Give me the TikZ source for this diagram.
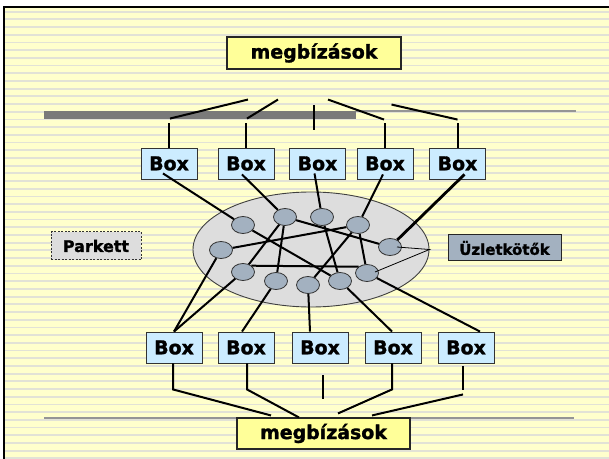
\documentclass[tikz,border=0pt]{standalone}
\usepackage{fontspec}
\setmainfont{DejaVu Sans}[BoldFeatures={FakeBold=1.6}]
\usepackage{tikz}
\usetikzlibrary{calc,shapes.geometric}
\definecolor{lap}{HTML}{FFFFCC}
\definecolor{csik}{HTML}{E2E2D6}
\definecolor{doboz}{HTML}{CCECFF}
\definecolor{sarga}{HTML}{FFFF99}
\definecolor{pontszin}{HTML}{A3B1C0}
\definecolor{szurke}{HTML}{DDDDDD}
\definecolor{sav}{HTML}{7A7A7A}

\begin{document}
\begin{tikzpicture}[x=1bp,y=-1bp,
  box/.style={draw=black!80,fill=doboz,line width=0.9bp,minimum width=56bp,minimum height=31bp,inner sep=0pt,font=\fontsize{19}{19}\selectfont\bfseries},
  megb/.style={draw=black!85,fill=sarga,line width=1.1bp,minimum width=174bp,minimum height=32bp,inner sep=0pt,font=\fontsize{19}{19}\selectfont\bfseries},
  pont/.style={ellipse,draw=black!80,fill=pontszin,line width=0.8bp,minimum width=23bp,minimum height=17bp,inner sep=0pt},
  vonal/.style={line width=2bp},
  vekony/.style={line width=0.8bp}]
\useasboundingbox (0,0) rectangle (609,459);
\begin{scope}
\clip (0,0) rectangle (609,459);
\fill[lap] (4,7) rectangle (612,462);
\foreach \y in {11.7,19.4,...,459}
  \draw[csik,line width=1.8bp] (4,\y) -- (609,\y);
\draw[line width=2.2bp] (4,462) -- (4,7) -- (612,7);
\end{scope}

\fill[sav] (44,111) rectangle (356,119);
\draw[sav!80,line width=1.3bp] (356,111) -- (576,111);
\draw[sav!80,line width=1.3bp] (44,418) -- (574,418);

\node[megb] (mfelso) at (314,53) {megbízások};
\node[megb,minimum width=173bp,minimum height=31bp] (malso) at (323.5,433.5) {megbízások};

\node[ellipse,draw=black!75,fill=szurke,line width=0.9bp,minimum width=236bp,minimum height=115bp,inner sep=0pt] (pool) at (311,249.5) {};

\node[box] (tb1) at (169,163.5) {Box};
\node[box] (tb2) at (246,163.5) {Box};
\node[box] (tb3) at (317.5,163.5) {Box};
\node[box] (tb4) at (385,163.5) {Box};
\node[box] (tb5) at (457.5,163.5) {Box};

\node[box] (bb1) at (174,347.5) {Box};
\node[box] (bb2) at (246,347.5) {Box};
\node[box] (bb3) at (320,347.5) {Box};
\node[box] (bb4) at (393,347.5) {Box};
\node[box] (bb5) at (466,347.5) {Box};

\node[draw=black!80,dash pattern=on 2bp off 1.5bp,fill=szurke,line width=1bp,minimum width=90bp,minimum height=28bp,font=\fontsize{16}{16}\selectfont\bfseries] (parkett) at (96,246) {Parkett};
\node[draw=black!85,fill=pontszin,line width=1bp,minimum width=113bp,minimum height=26bp,font=\fontsize{15}{15}\selectfont\bfseries] (uzlet) at (504.5,248) {Üzletkötők};

\node[pont] (n1) at (243,225) {};
\node[pont] (n2) at (285,217) {};
\node[pont] (n3) at (322,217) {};
\node[pont] (n4) at (358,225) {};
\node[pont] (n5) at (221,250) {};
\node[pont] (n6) at (390,247) {};
\node[pont] (n7) at (243,272) {};
\node[pont] (n8) at (276,281) {};
\node[pont] (n9) at (308,285) {};
\node[pont] (n10) at (340,281) {};
\node[pont] (n11) at (367,273) {};

% felso elosztas
\draw[vonal] (tb1.north) -- ++(0,-25);
\draw[vonal] (tb1.north) ++(1,-29) -- ++(78,-19);
\draw[vonal] (tb2.north) -- ++(0,-25);
\draw[vonal] (tb2.north) ++(1,-29) -- ++(31,-19);
\draw[vonal] (tb3.north) ++(-3.5,-18) -- ++(0,-25);
\draw[vonal] (tb4.north) -- ++(0,-25);
\draw[vonal] (tb4.north) ++(-1,-28) -- ++(-56,-20);
\draw[vonal] (tb5.north) -- ++(0,-25);
\draw[vonal] (tb5.north) ++(0,-28) -- ++(-66,-15);

% also elosztas
\draw[vonal] (bb1.south) ++(-1,0) -- ++(0,26) -- ++(98,26);
\draw[vonal] (bb2.south) ++(1,0) -- ++(0,26) -- ++(52,28);
\draw[vonal] (bb3.south) ++(3,12) -- ++(0,24);
\draw[vonal] (bb4.south) ++(-1,0) -- ++(0,26) -- ++(-54,24);
\draw[vonal] (bb5.south) ++(-3,3) -- ++(0,24);
\draw[vonal] (bb5.south) ++(-3,31) -- ++(-91,21);

% box -> parkett
\draw[vonal] ($(tb1.south)+(-6,-6)$) -- (n1);
\draw[vonal] ($(tb2.south)+(-4,-5)$) -- (n2);
\draw[vonal] ($(tb3.south)+(-3,-6)$) -- (n3);
\draw[vonal] ($(tb4.south)+(-2,-5)$) -- (n4);
\draw[line width=2.8bp] ($(tb5.south)+(7,-5)$) -- (n6);

% parkett
\draw[vonal] (n2) -- (n7);
\draw[vonal] (n2) -- (n8);
\draw[vonal] (n2) -- (n6);
\draw[vonal] (n1) -- (n10);
\draw[vonal] (n5) -- (n4);
\draw[vonal] (n3) -- (n10);
\draw[vonal] (n4) -- (n11);
\draw[vonal] (n4) -- (n9);
\draw[vonal] (n7.north east) -- (n11.north west);
\draw[vekony] ($(n6)+(7,0)$) -- (pool.east) -- ($(n11)+(8,-1)$);

% parkett -> box
\draw[vonal] (n5) -- (bb1.north);
\draw[vonal] (n7) -- (bb1.north);
\draw[vonal] (n8) -- ($(bb2.north)+(-4,0)$);
\draw[vonal] (n9) -- ($(bb3.north)+(-10,0)$);
\draw[vonal] (n10) -- ($(bb4.north)+(-1,0)$);
\draw[vonal] (n11) -- ($(bb5.north)+(14,0)$);
\end{tikzpicture}
\end{document}
